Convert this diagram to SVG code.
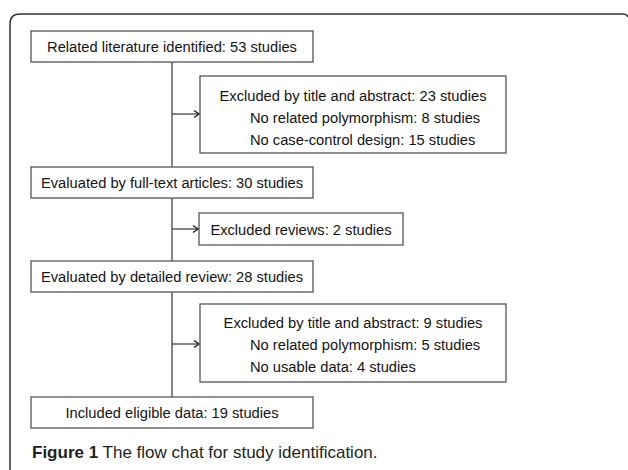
<svg xmlns="http://www.w3.org/2000/svg" width="628" height="470" viewBox="0 0 628 470">
<style>
.box{fill:#fff;stroke:#555;stroke-width:1.3}
.t{font-family:"Liberation Sans",Arial,sans-serif;font-size:14.7px;fill:#141414}
.c{text-anchor:middle}
.ln{stroke:#444;stroke-width:1.3;fill:none}
.cap{font-family:"Liberation Sans",Arial,sans-serif;font-size:17px;fill:#231f20}
</style>
<defs>
<marker id="ah" markerWidth="10" markerHeight="10" refX="8" refY="5" orient="auto" markerUnits="userSpaceOnUse">
<path d="M3,1.5 L8,5 L3,8.5" fill="none" stroke="#222" stroke-width="1.5"/>
</marker>
</defs>
<rect x="0" y="0" width="628" height="470" fill="#fff"/>
<path d="M10,474 L10,24 Q10,14 20,14 L622,14 Q627,14 628,17" fill="none" stroke="#333" stroke-width="1.5"/>
<g id="connectors">
<line class="ln" x1="172" y1="62" x2="172" y2="397"/>
<line class="ln" x1="172" y1="114" x2="199" y2="114" marker-end="url(#ah)"/>
<line class="ln" x1="172" y1="229" x2="198" y2="229" marker-end="url(#ah)"/>
<line class="ln" x1="172" y1="344" x2="199" y2="344" marker-end="url(#ah)"/>
</g>
<g id="n1"><rect class="box" x="31" y="31" width="282" height="31"/><text class="t c" x="172" y="52">Related literature identified: 53 studies</text></g>
<g id="n2"><rect class="box" x="200" y="76" width="306" height="77"/>
<text class="t c" x="353" y="100.5">Excluded by title and abstract: 23 studies</text>
<text class="t" x="250" y="122.5">No related polymorphism: 8 studies</text>
<text class="t" x="250" y="144.5">No case-control design: 15 studies</text></g>
<g id="n3"><rect class="box" x="31" y="167" width="282" height="31"/><text class="t c" x="172" y="188">Evaluated by full-text articles: 30 studies</text></g>
<g id="n4"><rect class="box" x="199" y="213" width="204" height="32"/><text class="t c" x="301" y="234.5">Excluded reviews: 2 studies</text></g>
<g id="n5"><rect class="box" x="31" y="261" width="282" height="31"/><text class="t c" x="172" y="282">Evaluated by detailed review: 28 studies</text></g>
<g id="n6"><rect class="box" x="200" y="304" width="306" height="78"/>
<text class="t c" x="353" y="327.5">Excluded by title and abstract: 9 studies</text>
<text class="t" x="250" y="349.5">No related polymorphism: 5 studies</text>
<text class="t" x="250" y="371.5">No usable data: 4 studies</text></g>
<g id="n7"><rect class="box" x="31" y="397" width="282" height="31"/><text class="t c" x="172" y="418">Included eligible data: 19 studies</text></g>
<text class="cap" x="32" y="458"><tspan font-weight="bold">Figure 1</tspan> The flow chat for study identification.</text>
</svg>
